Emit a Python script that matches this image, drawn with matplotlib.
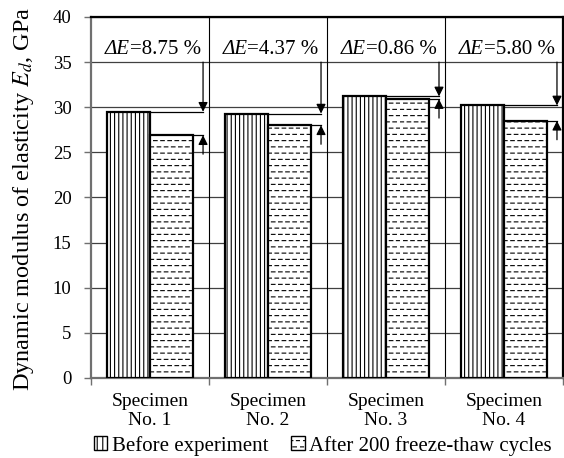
import numpy as np
import matplotlib
matplotlib.use('Agg')
import matplotlib.pyplot as plt
import matplotlib.hatch as mhatch
from matplotlib.patches import Patch


# dashed horizontal hatch (replaces the plain '-' hatch)
class DashHatch(mhatch.HatchPatternBase):
    def __init__(self, hatch, density):
        self.rows = 16 if '-' in hatch else 0
        self.dashes = 14
        self.num_vertices = self.rows * self.dashes * 2

    def set_vertices_and_codes(self, vertices, codes):
        k = 0
        for i in range(self.rows):
            y = (i + 0.5) / self.rows
            off = 0.5 * (i % 2)
            for j in range(self.dashes):
                x0 = (j + off) / self.dashes
                vertices[k] = (x0, y)
                vertices[k + 1] = (x0 + 0.5 / self.dashes, y)
                codes[k] = 1
                codes[k + 1] = 2
                k += 2


mhatch._hatch_types = [DashHatch if t is mhatch.HorizontalHatch else t
                       for t in mhatch._hatch_types]

plt.rcParams['font.family'] = 'Liberation Serif'
plt.rcParams['mathtext.fontset'] = 'stix'
plt.rcParams['hatch.linewidth'] = 0.8
plt.rcParams['hatch.color'] = 'black'

specimens = ['Specimen\nNo. 1', 'Specimen\nNo. 2', 'Specimen\nNo. 3', 'Specimen\nNo. 4']
before = [29.5, 29.3, 31.2, 30.2]
after = [26.9, 28.0, 30.9, 28.5]
delta_e = ['8.75', '4.37', '0.86', '5.80']

fig = plt.figure(figsize=(5.64, 4.58), dpi=100)
ax = fig.add_axes([0.1613, 0.1747, 0.8367, 0.7882])

x = np.arange(len(specimens))
w = 0.365
ax.bar(x - w / 2, before, w, color='white', edgecolor='black', linewidth=1.6,
       hatch='||||', zorder=3)
ax.bar(x + w / 2, after, w, color='white', edgecolor='black', linewidth=1.6,
       hatch='-', zorder=3)

ax.set_xlim(-0.5, 3.5)
ax.set_ylim(0, 40)
ax.set_yticks(np.arange(0, 41, 5))
ax.yaxis.grid(True, color='#404040', linewidth=0.9, zorder=0)
ax.set_axisbelow(True)
for b in [0.5, 1.5, 2.5]:
    ax.axvline(b, color='black', linewidth=0.8, zorder=1)

ax.set_xticks(x)
ax.set_xticklabels(specimens, fontsize=14, linespacing=1.15)
ax.set_xticks([-0.5, 0.5, 1.5, 2.5, 3.5], minor=True)
ax.tick_params(axis='x', which='major', length=0, pad=11)
ax.tick_params(axis='x', which='minor', length=5, color='#707070', width=1)
ax.tick_params(axis='y', length=5, color='#707070', width=1, labelsize=13.5, pad=9)

for s in ['top', 'right']:
    ax.spines[s].set_color('black')
    ax.spines[s].set_linewidth(1.6)
for s in ['left', 'bottom']:
    ax.spines[s].set_color('#707070')
    ax.spines[s].set_linewidth(1.6)

fig.text(0.041, 0.567, 'Dynamic modulus of elasticity $E_d$, GPa', rotation=90,
         ha='center', va='center', fontsize=17.5)

# change annotations
for i in range(len(x)):
    xa = x[i] + 0.45
    ax.plot([x[i], xa], [before[i], before[i]], color='black', lw=0.9, zorder=4)
    ax.plot([x[i] + w, xa], [after[i], after[i]], color='black', lw=0.9, zorder=4)
    ax.annotate('', xy=(xa, before[i]), xytext=(xa, 35),
                arrowprops=dict(arrowstyle='-|>', color='black', lw=0.9,
                                mutation_scale=14, shrinkA=0, shrinkB=0), zorder=5)
    ax.annotate('', xy=(xa, after[i]), xytext=(xa, after[i] - 2.1),
                arrowprops=dict(arrowstyle='-|>', color='black', lw=0.9,
                                mutation_scale=14, shrinkA=0, shrinkB=0), zorder=5)
    t = ax.text(x[i] + 0.43, 35.4, '=' + delta_e[i] + ' %', ha='right',
                va='bottom', fontsize=15)
    ax.annotate('\u0394E', xy=(0, 0), xycoords=t, ha='right', va='bottom',
                fontsize=15, style='italic')

handles = [Patch(facecolor='white', edgecolor='black', hatch='|||', label='Before experiment'),
           Patch(facecolor='white', edgecolor='black', hatch='-', label='After 200 freeze-thaw cycles')]
fig.legend(handles=handles, loc='center', bbox_to_anchor=(0.572, 0.027), ncol=2,
           frameon=False, fontsize=15, handlelength=0.65, handleheight=0.65,
           handletextpad=0.2, columnspacing=1.1, borderpad=0)

fig.savefig('out.png', dpi=100)
